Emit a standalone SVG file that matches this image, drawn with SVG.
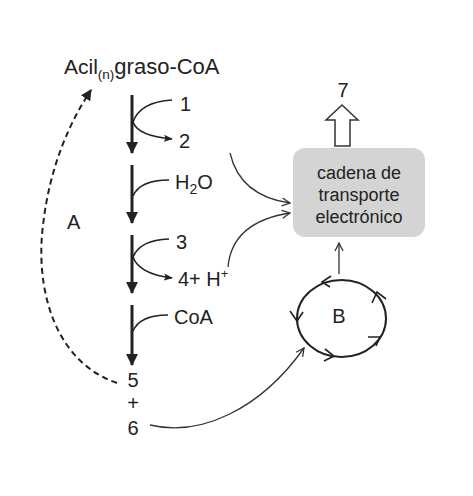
<svg xmlns="http://www.w3.org/2000/svg" width="473" height="496" viewBox="0 0 473 496">
<defs>
<style>
text{font-family:"Liberation Sans",Arial,sans-serif;fill:#222}
.t{font-size:20px}
.bx{font-size:18px;text-anchor:middle}
.thick{stroke:#222;stroke-width:3;fill:none}
.thin{stroke:#222;stroke-width:1.6;fill:none}
.conn{stroke:#333;stroke-width:1.3;fill:none}
</style>
<marker id="big" viewBox="0 0 12 12" refX="11" refY="6" markerWidth="12" markerHeight="12" markerUnits="userSpaceOnUse" orient="auto"><path d="M0,0 L12,6 L0,12 Z" fill="#222"/></marker>
<marker id="sm" viewBox="0 0 10 10" refX="9" refY="5" markerWidth="9" markerHeight="9" markerUnits="userSpaceOnUse" orient="auto"><path d="M0,1 L10,5 L0,9 L2,5 Z" fill="#222"/></marker>
<marker id="open" viewBox="0 0 10 10" refX="9" refY="5" markerWidth="10" markerHeight="10" markerUnits="userSpaceOnUse" orient="auto"><path d="M1,1 L9,5 L1,9" fill="none" stroke="#333" stroke-width="1.3"/></marker>
<marker id="dash" viewBox="0 0 10 10" refX="9" refY="5" markerWidth="11" markerHeight="11" markerUnits="userSpaceOnUse" orient="auto"><path d="M0,0 L10,5 L0,10 Z" fill="#222"/></marker>
</defs>
<g id="title"><text x="64" y="74" font-size="21">Acil<tspan font-size="13.5" dy="5">(n)</tspan><tspan dy="-5" font-size="22">graso-CoA</tspan></text></g>
<g id="labels">
<text class="t" x="180" y="111">1</text>
<text class="t" x="179" y="148">2</text>
<text class="t" x="175" y="189">H<tspan font-size="14" dy="5">2</tspan><tspan dy="-5">O</tspan></text>
<text class="t" x="176" y="249">3</text>
<text class="t" x="178" y="286">4+ H<tspan font-size="13" dy="-8">+</tspan></text>
<text class="t" x="174" y="324">CoA</text>
<text class="t" x="133" y="387" text-anchor="middle">5</text>
<text class="t" x="133" y="410" text-anchor="middle">+</text>
<text class="t" x="133" y="435" text-anchor="middle">6</text>
<text class="t" x="67" y="229">A</text>
<text class="t" x="343" y="97" text-anchor="middle">7</text>
</g>
<g id="box">
<rect x="293" y="148" width="132" height="89" rx="12" fill="#d4d4d4"/>
<text class="bx" x="359" y="179">cadena de</text>
<text class="bx" x="359" y="201">transporte</text>
<text class="bx" x="359" y="223">electrónico</text>
</g>
<g id="cycleB">
<ellipse cx="341.5" cy="318.5" rx="44.5" ry="38.5" fill="none" stroke="#222" stroke-width="2"/>
<text class="t" x="339" y="323" text-anchor="middle">B</text>
<g class="thin" stroke-width="1.3">
<path d="M331,276 L322,282 L330,287"/>
<path d="M290,311 L297,321 L303,312"/>
<path d="M325,349 L334,356 L324,361"/>
<path d="M368,337 L380,337 L376,346"/>
<path d="M372,303 L377,292 L386,299"/>
</g>
</g>
<g id="connectors">
<path class="thick" d="M132,95 V153" marker-end="url(#big)"/>
<path class="thick" d="M132,165 V223" marker-end="url(#big)"/>
<path class="thick" d="M132,235 V293" marker-end="url(#big)"/>
<path class="thick" d="M132,305 V365" marker-end="url(#big)"/>
<path class="thin" d="M172,100 Q140,102 133,122 Q138,136 172,139" marker-end="url(#sm)"/>
<path class="thin" d="M169,180 Q140,180 133,196"/>
<path class="thin" d="M169,239 Q140,240 133,257 Q139,274 172,278" marker-end="url(#sm)"/>
<path class="thin" d="M168,315 Q140,315 133,331"/>
<path d="M117,383 C55,362 35,290 43,225 C50,165 70,122 91,90" fill="none" stroke="#222" stroke-width="2" stroke-dasharray="6,4" marker-end="url(#dash)"/>
<path class="conn" d="M230,153 Q240,196 290,203" marker-end="url(#open)"/>
<path class="conn" d="M228,267 Q232,222 290,213" marker-end="url(#open)"/>
<path class="conn" d="M339,274 V243" marker-end="url(#open)"/>
<path class="conn" d="M150,425 C200,437 260,410 304,348" marker-end="url(#open)"/>
<polygon points="335,146 350,146 350,120 358,120 342,105 326,120 335,120" fill="#fff" stroke="#333" stroke-width="1.5"/>
</g>
</svg>
